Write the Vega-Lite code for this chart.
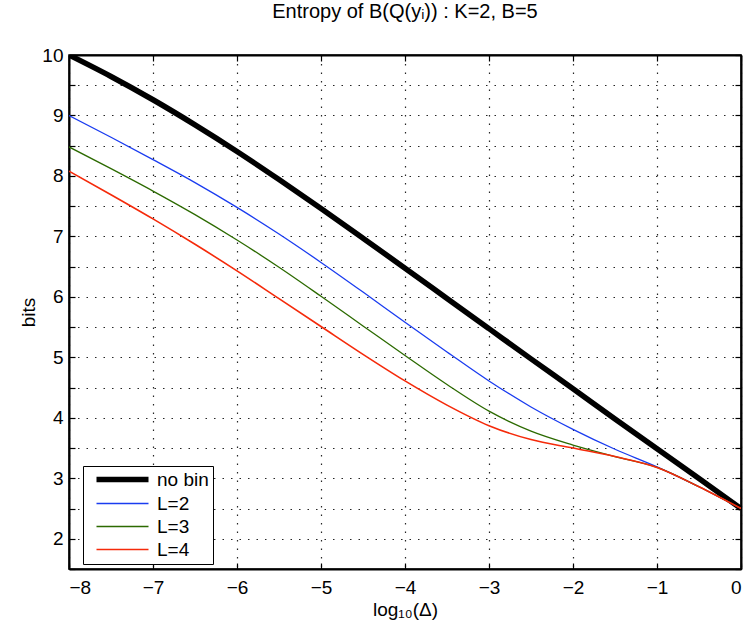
{
  "$schema": "https://vega.github.io/schema/vega-lite/v6.json",
  "autosize": {"type": "none"},
  "padding": {"left": 69, "top": 55, "right": 8, "bottom": 63},
  "width": 672,
  "height": 514,
  "background": "white",
  "config": {
    "font": "Liberation Sans",
    "view": {"stroke": "black", "strokeWidth": 1.5},
    "axis": {"labelColor": "black", "titleColor": "black", "labelFont": "Liberation Sans", "titleFont": "Liberation Sans"}
  },
  "title": {"text": "Entropy of B(Q(yᵢ)) : K=2, B=5", "fontSize": 20, "fontWeight": "normal", "color": "black", "offset": 24, "frame": "group", "anchor": "middle"},
  "data": {"values": [
    {"x": -8, "bits": 10, "series": "no bin"}, {"x": -7.5, "bits": 9.645, "series": "no bin"}, {"x": -7, "bits": 9.26, "series": "no bin"}, {"x": -6.5, "bits": 8.845, "series": "no bin"}, {"x": -6, "bits": 8.405, "series": "no bin"}, {"x": -5.5, "bits": 7.94, "series": "no bin"}, {"x": -5, "bits": 7.46, "series": "no bin"}, {"x": -4.5, "bits": 6.97, "series": "no bin"}, {"x": -4, "bits": 6.475, "series": "no bin"}, {"x": -3.5, "bits": 5.975, "series": "no bin"}, {"x": -3, "bits": 5.475, "series": "no bin"}, {"x": -2.5, "bits": 4.975, "series": "no bin"}, {"x": -2, "bits": 4.48, "series": "no bin"}, {"x": -1.5, "bits": 3.98, "series": "no bin"}, {"x": -1, "bits": 3.49, "series": "no bin"}, {"x": -0.5, "bits": 2.995, "series": "no bin"}, {"x": 0, "bits": 2.5, "series": "no bin"},
    {"x": -8, "bits": 9.0, "series": "L=2"}, {"x": -7.5, "bits": 8.64, "series": "L=2"}, {"x": -7, "bits": 8.27, "series": "L=2"}, {"x": -6.5, "bits": 7.89, "series": "L=2"}, {"x": -6, "bits": 7.48, "series": "L=2"}, {"x": -5.5, "bits": 7.04, "series": "L=2"}, {"x": -5, "bits": 6.57, "series": "L=2"}, {"x": -4.5, "bits": 6.08, "series": "L=2"}, {"x": -4, "bits": 5.58, "series": "L=2"}, {"x": -3.5, "bits": 5.09, "series": "L=2"}, {"x": -3, "bits": 4.61, "series": "L=2"}, {"x": -2.5, "bits": 4.18, "series": "L=2"}, {"x": -2, "bits": 3.81, "series": "L=2"}, {"x": -1.5, "bits": 3.48, "series": "L=2"}, {"x": -1, "bits": 3.19, "series": "L=2"}, {"x": -0.5, "bits": 2.86, "series": "L=2"}, {"x": 0, "bits": 2.5, "series": "L=2"},
    {"x": -8, "bits": 8.48, "series": "L=3"}, {"x": -7.5, "bits": 8.12, "series": "L=3"}, {"x": -7, "bits": 7.75, "series": "L=3"}, {"x": -6.5, "bits": 7.36, "series": "L=3"}, {"x": -6, "bits": 6.94, "series": "L=3"}, {"x": -5.5, "bits": 6.49, "series": "L=3"}, {"x": -5, "bits": 6.01, "series": "L=3"}, {"x": -4.5, "bits": 5.52, "series": "L=3"}, {"x": -4, "bits": 5.03, "series": "L=3"}, {"x": -3.5, "bits": 4.55, "series": "L=3"}, {"x": -3, "bits": 4.11, "series": "L=3"}, {"x": -2.5, "bits": 3.78, "series": "L=3"}, {"x": -2, "bits": 3.55, "series": "L=3"}, {"x": -1.5, "bits": 3.36, "series": "L=3"}, {"x": -1, "bits": 3.18, "series": "L=3"}, {"x": -0.5, "bits": 2.86, "series": "L=3"}, {"x": 0, "bits": 2.5, "series": "L=3"},
    {"x": -8, "bits": 8.08, "series": "L=4"}, {"x": -7.5, "bits": 7.69, "series": "L=4"}, {"x": -7, "bits": 7.29, "series": "L=4"}, {"x": -6.5, "bits": 6.87, "series": "L=4"}, {"x": -6, "bits": 6.43, "series": "L=4"}, {"x": -5.5, "bits": 5.97, "series": "L=4"}, {"x": -5, "bits": 5.51, "series": "L=4"}, {"x": -4.5, "bits": 5.05, "series": "L=4"}, {"x": -4, "bits": 4.61, "series": "L=4"}, {"x": -3.5, "bits": 4.21, "series": "L=4"}, {"x": -3, "bits": 3.87, "series": "L=4"}, {"x": -2.5, "bits": 3.64, "series": "L=4"}, {"x": -2, "bits": 3.5, "series": "L=4"}, {"x": -1.5, "bits": 3.36, "series": "L=4"}, {"x": -1, "bits": 3.18, "series": "L=4"}, {"x": -0.5, "bits": 2.86, "series": "L=4"}, {"x": 0, "bits": 2.5, "series": "L=4"}
  ]},
  "resolve": {"axis": {"x": "independent", "y": "independent"}},
  "layer": [
    {
      "mark": {"type": "line", "interpolate": "monotone", "clip": true},
      "encoding": {
        "x": {"field": "x", "type": "quantitative", "scale": {"domain": [-8, 0], "nice": false, "zero": false},
          "axis": {"orient": "bottom", "values": [-8, -7, -6, -5, -4, -3, -2, -1, 0], "grid": true, "gridColor": "black", "gridDash": [1.5, 7], "gridWidth": 1.2, "gridOpacity": 0.85,
            "tickSize": -6, "tickColor": "black", "tickWidth": 1.2, "domain": true, "domainColor": "black", "domainWidth": 2,
            "labelFontSize": 19, "labelPadding": 15, "labelExpr": "replace(datum.label, '-', '−')",
            "title": "log₁₀(Δ)", "titleFontSize": 19, "titleFontWeight": "normal", "titlePadding": 3}},
        "y": {"field": "bits", "type": "quantitative", "scale": {"domain": [1.5, 10], "nice": false, "zero": false},
          "axis": {"orient": "left", "values": [1.5, 2, 2.5, 3, 3.5, 4, 4.5, 5, 5.5, 6, 6.5, 7, 7.5, 8, 8.5, 9, 9.5, 10], "grid": true, "gridColor": "black", "gridDash": [1.5, 7], "gridWidth": 1.2, "gridOpacity": 0.85,
            "tickSize": -6, "tickColor": "black", "tickWidth": 1.2, "domain": true, "domainColor": "black", "domainWidth": 2,
            "labelFontSize": 19, "labelPadding": 12, "labelExpr": "datum.value % 1 === 0 ? format(datum.value, 'd') : ''",
            "title": "bits", "titleFontSize": 19, "titleFontWeight": "normal", "titlePadding": 3}},
        "color": {"field": "series", "type": "nominal",
          "scale": {"domain": ["no bin", "L=2", "L=3", "L=4"], "range": ["#000000", "#1a3cf0", "#2c6a00", "#f52a0a"]},
          "legend": {"title": null, "orient": "none", "legendX": 14, "legendY": 411, "symbolType": "M-5.2,0H5.2", "symbolSize": 100, "symbolOffset": 26,
            "labelFontSize": 19, "labelColor": "black", "labelOffset": 25, "rowPadding": 3, "padding": 4,
            "strokeColor": "black", "fillColor": "white", "symbolStrokeWidth": 2}},
        "strokeWidth": {"field": "series", "type": "nominal",
          "scale": {"type": "ordinal", "domain": ["no bin", "L=2", "L=3", "L=4"], "range": [5.5, 1.3, 1.3, 1.6]},
          "legend": null}
      }
    },
    {
      "mark": {"type": "line", "opacity": 0},
      "encoding": {
        "x": {"field": "x", "type": "quantitative",
          "axis": {"orient": "top", "values": [-8, -7, -6, -5, -4, -3, -2, -1, 0], "grid": false, "labels": false, "title": null,
            "tickSize": -6, "tickColor": "black", "tickWidth": 1.2, "domain": true, "domainColor": "black", "domainWidth": 2}},
        "y": {"field": "bits", "type": "quantitative",
          "axis": {"orient": "right", "values": [1.5, 2, 2.5, 3, 3.5, 4, 4.5, 5, 5.5, 6, 6.5, 7, 7.5, 8, 8.5, 9, 9.5, 10], "grid": false, "labels": false, "title": null,
            "tickSize": -6, "tickColor": "black", "tickWidth": 1.2, "domain": true, "domainColor": "black", "domainWidth": 2}},
        "detail": {"field": "series", "type": "nominal"}
      }
    }
  ]
}
